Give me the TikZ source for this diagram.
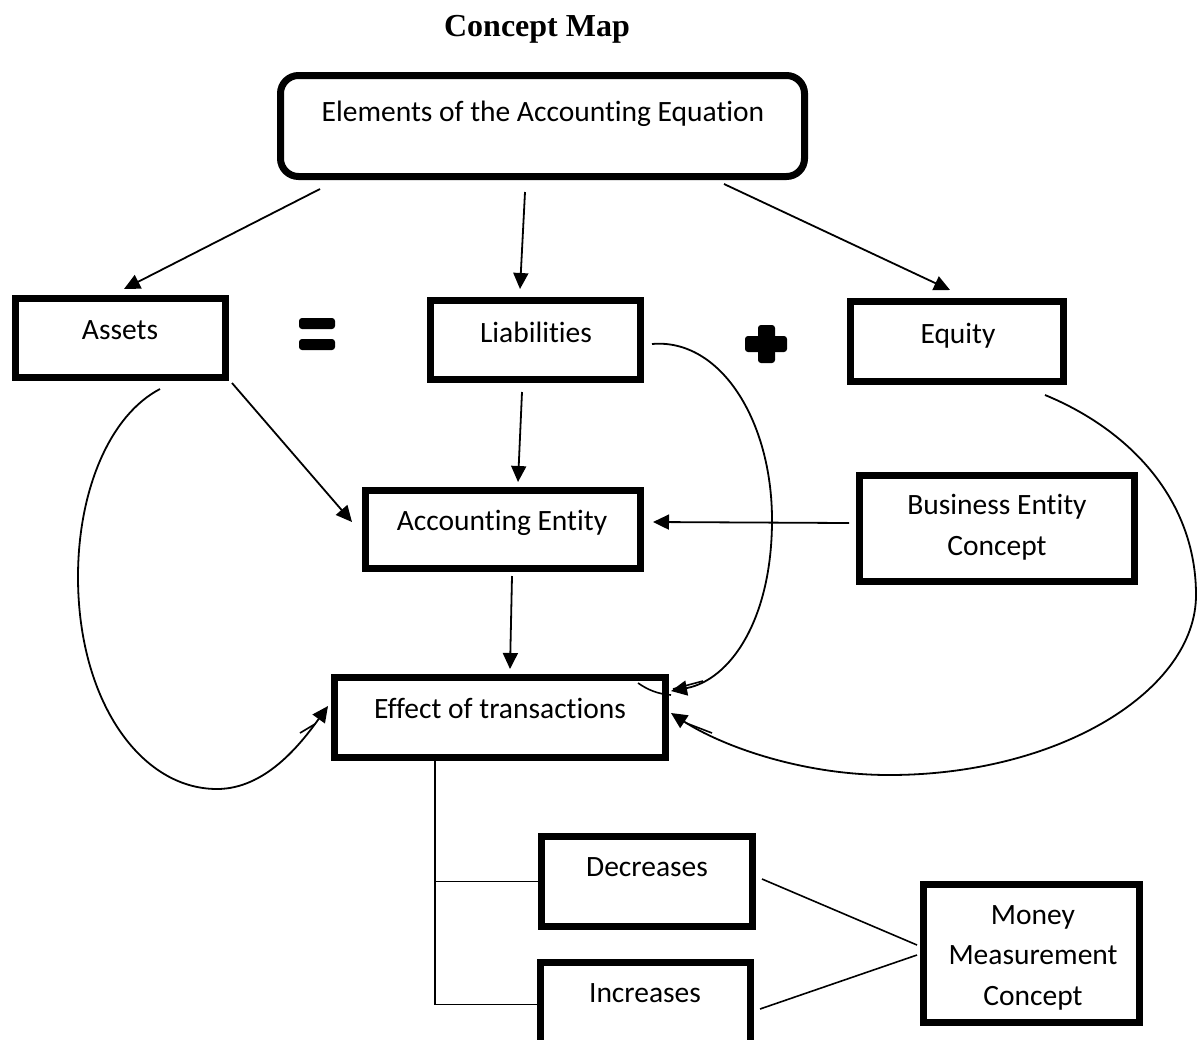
\documentclass[tikz,border=0pt]{standalone}
\usepackage{fontspec}
\setmainfont{Carlito}[Ligatures=NoCommon]
\newfontfamily\titlefont{Liberation Serif}
\usetikzlibrary{arrows.meta,calc}

\begin{document}
\begin{tikzpicture}[x=1pt,y=-1pt,
  box/.style={draw, line width=7pt, inner sep=0pt},
  lbl/.style={anchor=base, inner sep=0pt, align=center, font=\fontsize{29.5}{40.5}\selectfont},
  arr/.style={line width=1.8pt, -{Triangle[length=16pt,width=15pt]}},
  link/.style={line width=1.6pt},
  sign/.style={fill=black, rounded corners=3pt}]

\useasboundingbox (0,0) rectangle (1198,1039);

% heading
\node[anchor=base, inner sep=0pt, font=\titlefont\bfseries\fontsize{32}{38}\selectfont] (title) at (537,36) {Concept Map};

% boxes
\node[box, rounded corners=18pt, minimum width=524pt, minimum height=101pt] (top) at (542.5,126) {};
\node[box, minimum width=210pt, minimum height=79pt] (assets) at (120.5,338) {};
\node[box, minimum width=210pt, minimum height=79pt] (liab) at (535.5,340) {};
\node[box, minimum width=213pt, minimum height=80pt] (equity) at (957,341.5) {};
\node[box, minimum width=275pt, minimum height=78pt] (accent) at (503,529.5) {};
\node[box, minimum width=275pt, minimum height=106pt] (business) at (997,528.5) {};
\node[box, minimum width=331pt, minimum height=80pt] (effect) at (500,717.5) {};
\node[box, minimum width=211pt, minimum height=90pt] (decr) at (647,881.5) {};
\node[box, minimum width=210pt, minimum height=84pt] (incr) at (645.5,1004.5) {};
\node[box, minimum width=216pt, minimum height=138pt] (money) at (1031.5,953.5) {};

% labels (multi-line labels sit on the baseline of their last line)
\node[lbl] (top-t) at (543,121) {Elements of the Accounting Equation};
\node[lbl] (assets-t) at (120,339) {Assets};
\node[lbl] (liab-t) at (536,342) {Liabilities};
\node[lbl] (equity-t) at (958,343) {Equity};
\node[lbl] (accent-t) at (502,530) {Accounting Entity};
\node[lbl] (business-t) at (997,555) {Business Entity\\Concept};
\node[lbl] (effect-t) at (500,718) {Effect of transactions};
\node[lbl] (decr-t) at (647,876) {Decreases};
\node[lbl] (incr-t) at (645,1002) {Increases};
\node[lbl] (money-t) at (1033,1005) {Money\\Measurement\\Concept};

% equals and plus signs
\fill[sign] (299,318) rectangle (335,329);
\fill[sign] (299,339) rectangle (335,350);
\fill[sign] (745,336) rectangle (787,352);
\fill[sign] (758,325) rectangle (775,363);

% straight arrows
\draw[arr] ($(top.south west)+(43,9)$) -- ($(assets.north)+(3.5,-6)$);
\draw[arr] ($(top.south)+(-17.5,12)$) -- ($(liab.north)+(-15.5,-8)$);
\draw[arr] ($(top.south)+(181.5,4)$) -- ($(equity.north)+(-7,-8)$);
\draw[arr] ($(assets.south east)+(3,2)$) -- ($(accent.west)+(-10,-7.5)$);
\draw[arr] ($(liab.south)+(-13.5,9)$) -- ($(accent.north)+(15,-5)$);
\draw[arr] ($(business.west)+(-7,-5.5)$) -- ($(accent.east)+(9,-7.5)$);
\draw[arr] ($(accent.south)+(9,4)$) -- ($(effect.north)+(10,-5)$);

% curved arrows into the transactions box
\draw[arr] ($(assets.south)+(39.5,8)$)
  .. controls (110,415) and (78,490) .. (78,577)
  .. controls (78,700) and (140,789) .. (217,789)
  .. controls (265,789) and (300,745) .. ($(effect.west)+(-3,-11.5)$);
\draw[link] ($(effect.west)+(-31,15.5)$) -- ($(effect.west)+(-16,6.5)$);

\draw[arr] ($(liab.east)+(8,4)$)
  .. controls (720,338) and (772,420) .. (772,520)
  .. controls (772,620) and (730,680) .. ($(effect.north east)+(2,17)$);
\draw[link] ($(effect.north east)+(4,15)$) -- ($(effect.north east)+(34,7)$);
\draw[link] ($(effect.north east)+(-31,9)$) .. controls ($(effect.north east)+(-21,16)$) and ($(effect.north east)+(-11,20)$) .. ($(effect.north east)+(2,21)$);

\draw[arr] ($(equity.south east)+(-22,10)$)
  .. controls (1130,430) and (1196,500) .. (1196,595)
  .. controls (1196,690) and (1060,775) .. (889,775)
  .. controls (800,775) and (720,745) .. ($(effect.east)+(2,-4.5)$);
\draw[link] ($(effect.east)+(17,5.5)$) -- ($(effect.east)+(43,15.5)$);

% branches to decreases and increases
\draw[link] ($(effect.south)+(-65,0)$) |- (decr.west);
\draw[link] ($(effect.south)+(-65,0)$) |- (incr.west);

% links to the money measurement concept
\draw[link] ($(decr.east)+(6,-2.5)$) -- ($(money.west)+(-3,-8.5)$);
\draw[link] ($(incr.east)+(6,4.5)$) -- ($(money.west)+(-3,1.5)$);

\end{tikzpicture}
\end{document}
